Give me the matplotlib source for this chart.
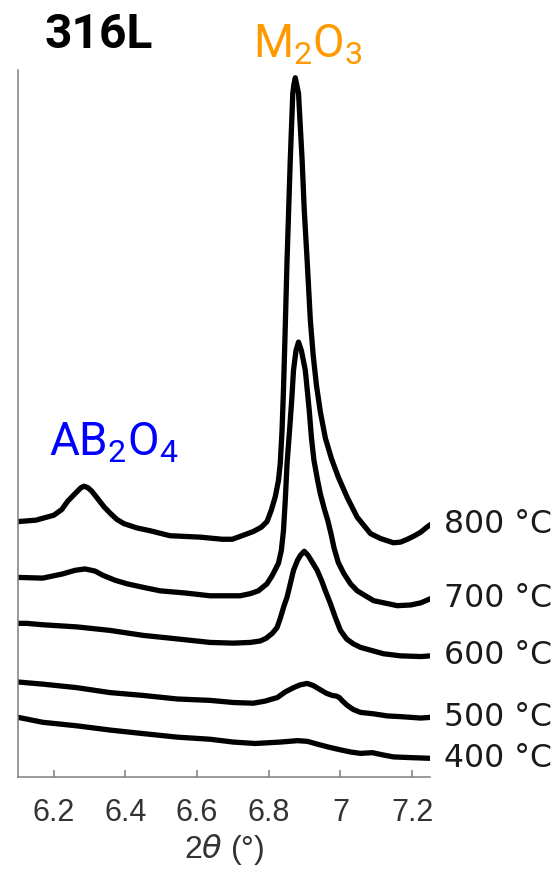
import matplotlib
matplotlib.use('Agg')
import matplotlib.pyplot as plt

# XRD patterns of 316L after oxidation, intensities in a.u.
two_theta_800 = [6.100, 6.150, 6.200, 6.222, 6.239, 6.262, 6.276, 6.284, 6.295, 6.306,
                 6.320, 6.340, 6.357, 6.376, 6.396, 6.432, 6.469, 6.524, 6.608, 6.670,
                 6.698, 6.720, 6.757, 6.779, 6.795, 6.807, 6.818, 6.827, 6.832, 6.837,
                 6.841, 6.845, 6.851, 6.860, 6.867, 6.870, 6.874, 6.878, 6.883, 6.893,
                 6.899, 6.907, 6.916, 6.924, 6.933, 6.944, 6.958, 6.975, 6.994, 7.019,
                 7.047, 7.084, 7.112, 7.148, 7.168, 7.187, 7.207, 7.224, 7.241, 7.252]
counts_800 = [36.1, 36.3, 37.0, 37.8, 39.0, 40.2, 40.9, 41.1, 40.9, 40.4,
              39.5, 38.2, 37.3, 36.4, 35.8, 35.2, 34.8, 34.1, 33.9, 33.6,
              33.6, 34.0, 34.7, 35.3, 36.1, 37.7, 39.6, 41.9, 44.3, 49.0,
              54.7, 61.8, 73.1, 87.3, 96.7, 97.9, 98.9, 97.9, 96.7, 87.3,
              80.2, 73.1, 64.6, 59.6, 55.4, 51.6, 47.9, 45.0, 42.4, 39.5,
              36.7, 34.4, 33.7, 33.1, 33.2, 33.6, 34.1, 34.6, 35.3, 35.7]

two_theta_700 = [6.100, 6.169, 6.225, 6.259, 6.287, 6.315, 6.337, 6.371, 6.404, 6.449,
                 6.497, 6.566, 6.636, 6.678, 6.720, 6.748, 6.771, 6.795, 6.810, 6.827,
                 6.835, 6.841, 6.846, 6.851, 6.858, 6.864, 6.869, 6.876, 6.883, 6.891,
                 6.902, 6.913, 6.919, 6.926, 6.936, 6.944, 6.955, 6.965, 6.974, 6.982,
                 6.994, 7.009, 7.028, 7.047, 7.073, 7.093, 7.112, 7.159, 7.196, 7.224,
                 7.252]
counts_700 = [28.2, 28.1, 28.7, 29.2, 29.4, 29.1, 28.5, 27.8, 27.3, 26.8,
              26.3, 26.0, 25.6, 25.6, 25.6, 25.9, 26.3, 27.3, 28.5, 30.2,
              32.0, 34.8, 39.1, 44.3, 49.0, 53.3, 57.5, 60.3, 61.5, 60.3,
              57.5, 51.8, 48.0, 44.8, 42.0, 40.0, 37.9, 36.2, 34.3, 32.4,
              30.3, 28.8, 27.3, 26.3, 25.5, 24.9, 24.7, 24.2, 24.3, 24.6,
              25.2]

two_theta_600 = [6.100, 6.124, 6.169, 6.264, 6.357, 6.449, 6.544, 6.636, 6.701, 6.748,
                 6.776, 6.793, 6.810, 6.823, 6.832, 6.842, 6.851, 6.860, 6.869, 6.880,
                 6.888, 6.899, 6.910, 6.922, 6.935, 6.947, 6.958, 6.972, 6.986, 7.000,
                 7.017, 7.036, 7.056, 7.120, 7.168, 7.224, 7.252]
counts_600 = [21.7, 21.7, 21.5, 21.2, 20.7, 20.0, 19.5, 19.0, 18.9, 19.0,
              19.2, 19.6, 20.3, 21.1, 22.4, 24.1, 25.4, 27.3, 29.2, 30.6,
              31.3, 31.9, 31.3, 30.3, 29.2, 27.8, 26.3, 24.5, 22.5, 20.7,
              19.5, 18.8, 18.3, 17.4, 17.1, 17.0, 17.1]

two_theta_500 = [6.100, 6.169, 6.264, 6.357, 6.449, 6.544, 6.636, 6.701, 6.757, 6.790,
                 6.810, 6.824, 6.846, 6.869, 6.888, 6.907, 6.924, 6.944, 6.961, 6.977,
                 6.989, 6.997, 7.006, 7.019, 7.036, 7.056, 7.092, 7.131, 7.168, 7.224,
                 7.252]
counts_500 = [13.4, 13.1, 12.6, 11.9, 11.5, 11.0, 10.8, 10.5, 10.4, 10.7,
              11.0, 11.2, 12.0, 12.6, 13.0, 13.2, 12.9, 12.3, 11.8, 11.5,
              11.4, 11.2, 10.7, 10.1, 9.5, 9.1, 8.9, 8.6, 8.5, 8.3,
              8.4]

two_theta_400 = [6.100, 6.169, 6.264, 6.357, 6.449, 6.544, 6.636, 6.701, 6.762, 6.832,
                 6.880, 6.908, 6.936, 6.966, 7.000, 7.028, 7.056, 7.089, 7.117, 7.148,
                 7.196, 7.252]
counts_400 = [8.4, 7.7, 7.2, 6.6, 6.1, 5.6, 5.3, 4.9, 4.7, 4.9,
              5.1, 5.0, 4.6, 4.2, 3.8, 3.5, 3.3, 3.4, 3.1, 2.8,
              2.7, 2.6]

temps = ['800 °C', '700 °C', '600 °C', '500 °C', '400 °C']
patterns = [(two_theta_800, counts_800), (two_theta_700, counts_700),
            (two_theta_600, counts_600), (two_theta_500, counts_500),
            (two_theta_400, counts_400)]
xticks = [6.2, 6.4, 6.6, 6.8, 7.0, 7.2]
xtick_labels = ['6.2', '6.4', '6.6', '6.8', '7', '7.2']

plt.rcParams['font.family'] = ['DejaVu Sans']
plt.rcParams['mathtext.fontset'] = 'custom'
plt.rcParams['mathtext.rm'] = 'Roboto'
plt.rcParams['mathtext.it'] = 'Roboto:italic'
plt.rcParams['mathtext.bf'] = 'Roboto:bold'

fig = plt.figure(figsize=(5.6, 8.74), dpi=100)
ax = fig.add_axes([18 / 560, 97.3 / 874, 412 / 560, 706.7 / 874])

for (tt, cc), label in zip(patterns, temps):
    ax.plot(tt, cc, color='black', lw=3.8, solid_joinstyle='round', solid_capstyle='round')
    ax.text(7.288, cc[-1], label, ha='left', va='center', fontsize=22.7,
            color='#1a1a1a', clip_on=False)

ax.set_xlim(6.1, 7.25)
ax.set_ylim(0, 100)

for side in ['top', 'right']:
    ax.spines[side].set_visible(False)
for side in ['left', 'bottom']:
    ax.spines[side].set_color('#7f7f7f')
    ax.spines[side].set_linewidth(1.1)

ax.set_yticks([])
ax.set_xticks(xticks)
ax.set_xticklabels(xtick_labels, family='Liberation Sans')
ax.tick_params(axis='x', direction='in', length=5, width=1.1, color='#7f7f7f',
               labelsize=22, labelcolor='#333333', pad=15.5)
ax.set_xlabel(r'2$\theta$ (°)', fontsize=23, color='#333333', labelpad=3,
              family='Liberation Sans', math_fontfamily='dejavusans')

# phase annotations
ax.text(6.908, 101.8, r'$\mathrm{M_2O_3}$', ha='center', va='baseline',
        fontsize=33, color='#ff9900', clip_on=False)
ax.text(6.368, 45.5, r'$\mathrm{AB_2O_4}$', ha='center', va='baseline',
        fontsize=33, color='#0000ff', clip_on=False)
fig.text(45 / 560, 1 - 48 / 874, '316L', ha='left', va='baseline',
         fontsize=34.5, fontweight='bold', family='Roboto', color='black')

plt.savefig('out.png', dpi=100)
